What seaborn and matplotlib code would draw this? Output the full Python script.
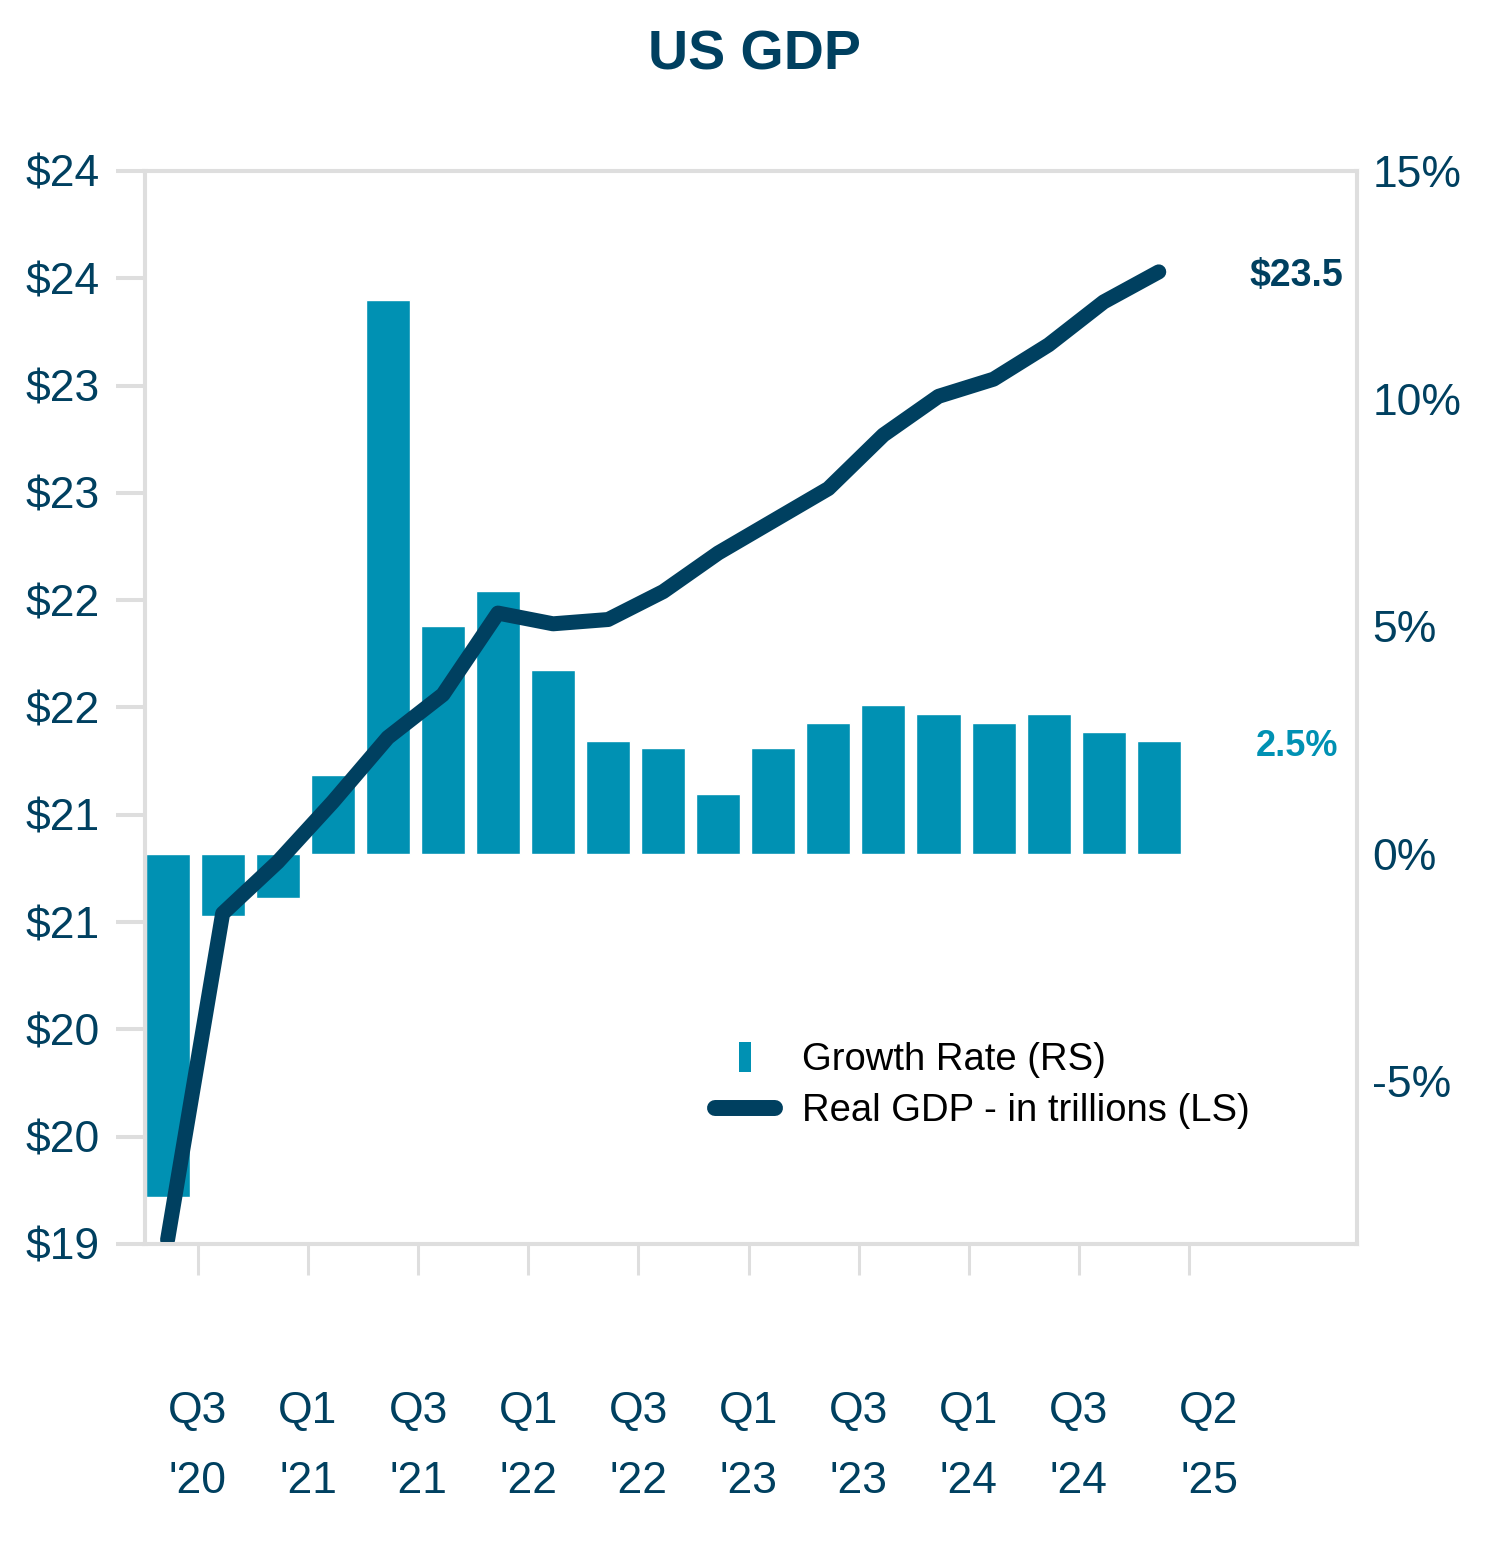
import numpy as np
import pandas as pd
import matplotlib.pyplot as plt
import matplotlib.transforms as mtransforms
import seaborn as sns
from matplotlib.lines import Line2D
from matplotlib.ticker import FuncFormatter

# Quarterly data, Q2 '20 through Q4 '24
quarters = ["Q2 '20", "Q3 '20", "Q4 '20", "Q1 '21", "Q2 '21", "Q3 '21", "Q4 '21",
            "Q1 '22", "Q2 '22", "Q3 '22", "Q4 '22", "Q1 '23", "Q2 '23", "Q3 '23",
            "Q4 '23", "Q1 '24", "Q2 '24", "Q3 '24", "Q4 '24"]
growth_rate = [-7.55, -1.38, -0.97, 1.72, 12.17, 5.01, 5.78, 4.04, 2.48, 2.31,
               1.32, 2.31, 2.88, 3.27, 3.07, 2.88, 3.07, 2.68, 2.48]
real_gdp = [19.02, 20.54, 20.78, 21.06, 21.36, 21.56, 21.94, 21.89, 21.91, 22.04,
            22.22, 22.37, 22.52, 22.77, 22.95, 23.03, 23.19, 23.39, 23.53]

tick_quarters = ["Q3 '20", "Q1 '21", "Q3 '21", "Q1 '22", "Q3 '22",
                 "Q1 '23", "Q3 '23", "Q1 '24", "Q3 '24", "Q2 '25"]
gdp_ticks = np.arange(19, 24.01, 0.5)
growth_ticks = [-5, 0, 5, 10, 15]

teal = "#0091B3"
navy = "#004060"
grey = "#DEDEDE"

sns.set_theme(style="white")
plt.rcParams["font.family"] = ["Liberation Sans", "DejaVu Sans"]

df = pd.DataFrame({"quarter": quarters, "growth": growth_rate, "gdp": real_gdp})
df["pos"] = np.arange(len(df))

fig, ax = plt.subplots(figsize=(15.02, 15.42), dpi=100)
fig.subplots_adjust(left=145 / 1502, right=1357 / 1502,
                    bottom=1 - 1244 / 1542, top=1 - 171 / 1542)

# bars: growth rate on the right-hand scale
sns.barplot(data=df, x="pos", y="growth", native_scale=True, color=teal,
            saturation=1, width=0.8, errorbar=None, ax=ax)

# line: real GDP on the left-hand scale
ax2 = ax.twinx()
sns.lineplot(data=df, x="pos", y="gdp", color=navy, linewidth=10.8,
             solid_capstyle="round", ax=ax2)

ax.yaxis.tick_right()
ax2.yaxis.tick_left()
ax2.yaxis.set_label_position("left")

ax.set_xlim(-0.41, 21.6)
ax.set_ylim(-8.58, 15)
ax2.set_ylim(19, 24)

ax.set_xlabel("")
ax.set_ylabel("")
ax2.set_xlabel("")
ax2.set_ylabel("")

# a date label every second quarter, set just before the bar it names
ax.set_xticks(0.55 + 2 * np.arange(len(tick_quarters)))
ax.set_xticklabels([q.replace(" ", "\n") for q in tick_quarters])
ax.set_yticks(growth_ticks)
ax.yaxis.set_major_formatter(FuncFormatter(lambda v, p: f"{v:.0f}%"))
ax2.set_yticks(gdp_ticks)
ax2.yaxis.set_major_formatter(FuncFormatter(lambda v, p: f"${int(v + 0.5)}"))

for a in (ax, ax2):
    for s in a.spines.values():
        s.set_color(grey)
        s.set_linewidth(2.9)
        s.set_visible(True)

ax.tick_params(axis="x", direction="out", length=22, width=2.2, color=grey,
               pad=84, labelsize=32, labelcolor=navy, bottom=True)
ax.tick_params(axis="y", length=0, pad=11, labelsize=32, labelcolor=navy)
ax2.tick_params(axis="y", direction="out", length=21, width=2.9, color=grey,
                pad=11.5, labelsize=32, labelcolor=navy)
xlabels = ax.get_xticklabels()
for lbl in xlabels:
    lbl.set_linespacing(1.9)
# the last date label sits a little right of its tick
xlabels[-1].set_transform(xlabels[-1].get_transform()
                          + mtransforms.ScaledTranslation(0.2, 0, fig.dpi_scale_trans))

# end-of-series labels
ax2.annotate(f"${real_gdp[-1]:.1f}", xy=(df["pos"].iloc[-1], real_gdp[-1]),
             xytext=(91, 0), textcoords="offset pixels", ha="left",
             va="center_baseline", fontsize=27, fontweight="bold", color=navy)
ax.annotate(f"{growth_rate[-1]:.1f}%", xy=(df["pos"].iloc[-1], growth_rate[-1]),
            xytext=(97, -2), textcoords="offset pixels", ha="left",
            va="center_baseline", fontsize=26, fontweight="bold", color=teal)

# legend
rect = [(-6, -15.5), (6, -15.5), (6, 15.5), (-6, 15.5), (-6, -15.5)]
handles = [
    Line2D([], [], linestyle="none", marker=rect, markersize=22.3,
           markerfacecolor=teal, markeredgewidth=0),
    Line2D([], [], color=navy, linewidth=11.5, solid_capstyle="round"),
]
labels = ["Growth Rate (RS)", "Real GDP - in trillions (LS)"]
ax2.legend(handles, labels, loc="upper left",
           bbox_to_anchor=(715 / 1502, 1 - 1042 / 1542),
           bbox_transform=fig.transFigure, frameon=False, fontsize=27.5,
           handlelength=1.57, handletextpad=0.71, labelspacing=0.4,
           borderpad=0, borderaxespad=0, labelcolor="black")

fig.suptitle("US GDP", x=0.502, y=1 - 56 / 1542, va="center", fontsize=40,
             fontweight="bold", color=navy)

fig.savefig("out.png", dpi=100)
